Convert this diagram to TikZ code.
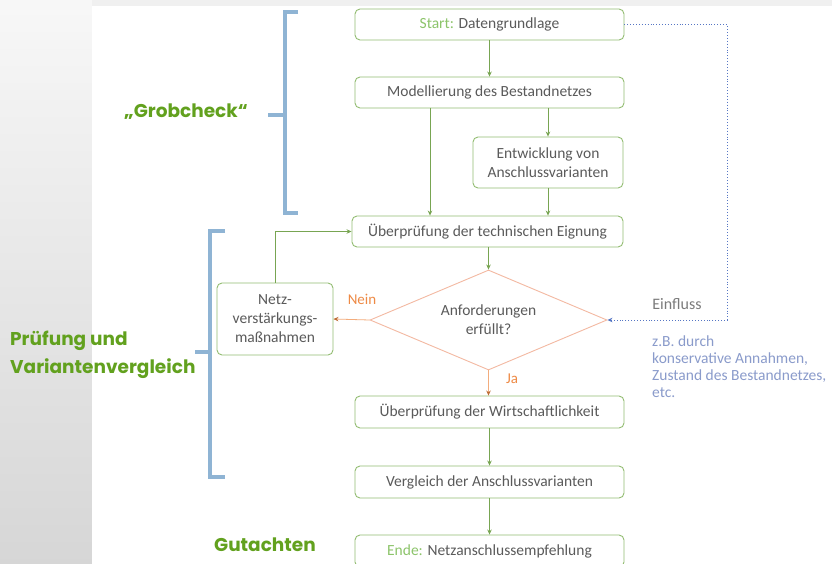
\documentclass[tikz,border=0pt]{standalone}
\usepackage{fontspec}
\setmainfont{Carlito}
\newfontfamily\labfont{Poppins}[BoldFont={* Bold}]
\usetikzlibrary{shapes.geometric,arrows.meta}
\definecolor{boxgreen}{HTML}{93BD72}
\definecolor{arrgreen}{HTML}{78A552}
\definecolor{txtgray}{HTML}{5A5A5A}
\definecolor{lightgreen}{HTML}{8CC46A}
\definecolor{diaorange}{HTML}{F3B9A2}
\definecolor{neinorange}{HTML}{EE8A45}
\definecolor{infblue}{HTML}{5676C4}
\definecolor{notetxt}{HTML}{8A9BCB}
\definecolor{brblue}{HTML}{8FB4D4}
\definecolor{labgreen}{HTML}{62A11E}
\tikzset{
  flowbox/.style={draw=boxgreen, line width=0.9pt, rounded corners=5pt, fill=white,
    text=txtgray, font=\fontsize{15.5}{19}\selectfont, align=center, inner sep=2pt},
  flowarrow/.style={draw=arrgreen, line width=0.8pt, -{Stealth[length=5pt,width=4.5pt]}},
  decarrow/.style={draw=neinorange!70, line width=0.8pt, -{Stealth[length=5pt,width=4.5pt,color=neinorange!80!black]}},
  infarrow/.style={draw=infblue, line width=0.9pt, dotted, -{Stealth[length=5pt,width=4.5pt]}},
  bracket/.style={draw=brblue, line width=4.5pt},
  phaselabel/.style={text=labgreen, font=\labfont\bfseries\fontsize{18.5}{28}\selectfont, inner sep=0pt},
  declabel/.style={text=neinorange, font=\fontsize{15}{17}\selectfont, inner sep=0pt}
}
\begin{document}
\begin{tikzpicture}[x=1pt,y=-1pt]
\useasboundingbox (0,0) rectangle (832,564);
% background
\fill[white!94!black] (0,0) rectangle (832,564);
\shade[top color=white!97!black, bottom color=white!84!black] (0,0) rectangle (92,564);
\fill[white] (92,6) rectangle (832,564);

% nodes
\node[flowbox, minimum width=269pt, minimum height=31pt] (start) at (489.5,24.5)
  {\textcolor{lightgreen}{Start:} Datengrundlage};
\node[flowbox, minimum width=269pt, minimum height=31pt] (model) at (489.5,92.5)
  {Modellierung des Bestandnetzes};
\node[flowbox, minimum width=150pt, minimum height=51pt] (entw) at (548,162.5)
  {Entwicklung von\\Anschlussvarianten};
\node[flowbox, minimum width=271pt, minimum height=31pt] (tech) at (487.5,231.5)
  {Überprüfung der technischen Eignung};
\node[draw=diaorange, line width=0.9pt, diamond, aspect=2.37, inner sep=0pt,
  minimum width=237pt, minimum height=100pt, text=txtgray, align=center,
  font=\fontsize{15.5}{19}\selectfont] (dec) at (488.5,320)
  {Anforderungen\\erfüllt?};
\node[flowbox, minimum width=116pt, minimum height=72pt] (netz) at (275,319)
  {Netz-\\verstärkungs-\\maßnahmen};
\node[flowbox, minimum width=269pt, minimum height=32pt] (wirt) at (489.5,412)
  {Überprüfung der Wirtschaftlichkeit};
\node[flowbox, minimum width=269pt, minimum height=32pt] (vergl) at (489.5,482)
  {Vergleich der Anschlussvarianten};
\node[flowbox, minimum width=269pt, minimum height=32pt] (ende) at (489.5,551)
  {\textcolor{lightgreen}{Ende:} Netzanschlussempfehlung};

% connectors
\draw[flowarrow] (start.south) -- (model.north);
\draw[flowarrow] (model.south -| entw.north) -- (entw.north);
\draw[flowarrow] (entw.south) -- (entw.south |- tech.north);
\coordinate (ml) at (430,108);
\draw[flowarrow] (ml) -- (ml |- tech.north);
\draw[flowarrow] (tech.south -| dec.north) -- (dec.north);
\draw[decarrow] (dec.west) -- (netz.east);
\node[declabel] (nein) at (362,299) {Nein};
\draw[decarrow] (dec.south) -- (dec.south |- wirt.north);
\node[declabel] (ja) at (512,379) {Ja};
\draw[flowarrow] (netz.north) |- (tech.west);
\draw[flowarrow] (wirt.south) -- (vergl.north);
\draw[flowarrow] (vergl.south) -- (ende.north);
\coordinate (inf1) at (727,24.5);
\coordinate (inf2) at (727,320);
\draw[infarrow] (start.east) -- (inf1) -- (inf2) -- (dec.east);
\node[text=txtgray!80, font=\fontsize{16}{18}\selectfont, inner sep=0pt] (einfl) at (677,304) {Einfluss};
\node[text=notetxt, font=\fontsize{15.5}{17}\selectfont, align=left, anchor=north west, inner sep=0pt] (note) at (652,336)
  {z.B. durch\\konservative Annahmen,\\Zustand des Bestandnetzes,\\etc.};

% brackets
\draw[bracket] (298,12) -- (285,12) -- (285,213) -- (298,213);
\draw[bracket] (285,115) -- (268,115);
\draw[bracket] (225,231) -- (210,231) -- (210,477) -- (225,477);
\draw[bracket] (210,352) -- (195,352);

% phase labels
\node[phaselabel] (grob) at (186,112) {„Grobcheck“};
\node[phaselabel, anchor=west, align=left] (pruef) at (10,355) {Prüfung und\\Variantenvergleich};
\node[phaselabel] (gut) at (265,545) {Gutachten};
\end{tikzpicture}
\end{document}
